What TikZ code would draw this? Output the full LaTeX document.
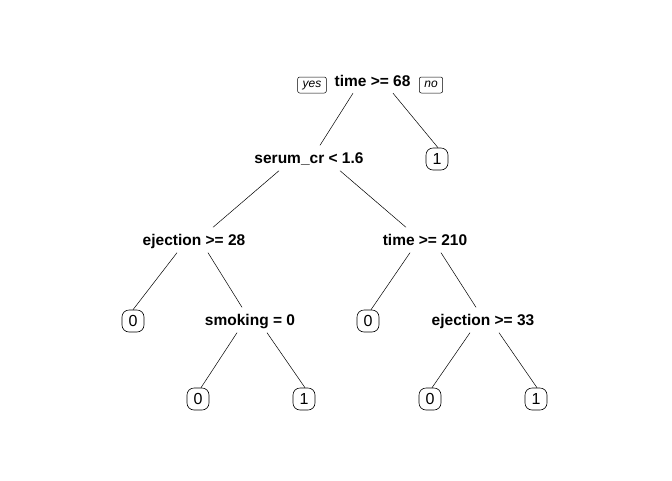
\documentclass[tikz,border=0pt]{standalone}
\usepackage{fontspec}
\setmainfont{Liberation Sans}

\begin{document}
\begin{tikzpicture}
    [x=1pt,y=-1pt,line cap=round,line join=round,
     split/.style={font=\fontsize{15.5}{18}\selectfont\bfseries,text height=11pt,text depth=0pt,inner xsep=0pt,inner ysep=7pt},
     leaf/.style={draw,line width=0.6pt,rounded corners=7pt,font=\fontsize{16}{18}\selectfont,text height=11pt,text depth=0pt,inner xsep=0pt,inner ysep=5.5pt,minimum width=22pt},
     tag/.style={draw,line width=0.5pt,rounded corners=2pt,font=\fontsize{12}{14}\selectfont\itshape,text height=8pt,text depth=2.5pt,inner xsep=5pt,inner ysep=2.75pt}]
\useasboundingbox (0,0) rectangle (672,480);
%split nodes
 \node[split] (root) at (372.5,80.5) {time >= 68};
 \node[split] (sc) at (309,158) {serum\_cr < 1.6};
 \node[split] (ejA) at (194,240) {ejection >= 28};
 \node[split] (tB) at (425,240) {time >= 210};
 \node[split] (sm) at (250,320) {smoking = 0};
 \node[split] (ejB) at (483,320) {ejection >= 33};
%yes / no tags
 \node[tag] (yes) at (312,85) {yes};
 \node[tag] (no) at (431,85) {no};
%leaves
 \node[leaf] (lfA) at (437,159) {1};
 \node[leaf] (lfB) at (133,321) {0};
 \node[leaf] (lfC) at (368,321) {0};
 \node[leaf] (lfD) at (198,399) {0};
 \node[leaf] (lfE) at (304,399) {1};
 \node[leaf] (lfF) at (430,399) {0};
 \node[leaf] (lfG) at (536,399) {1};
%branches
 \foreach \p/\ps/\c/\cs in {root/-19.5/sc/11, root/20.5/lfA/1,
                            sc/-30/ejA/19, sc/31/tB/-19,
                            ejA/-17/lfB/0, ejA/14/sm/-8,
                            tB/-15/lfC/3, tB/16/ejB/-7,
                            sm/-13/lfD/3, sm/17/lfE/1,
                            ejB/-13/lfF/2, ejB/16/lfG/1}
   \draw[line width=0.5pt] ([xshift=\ps pt]\p.south) -- ([xshift=\cs pt]\c.north);
\end{tikzpicture}
\end{document}
